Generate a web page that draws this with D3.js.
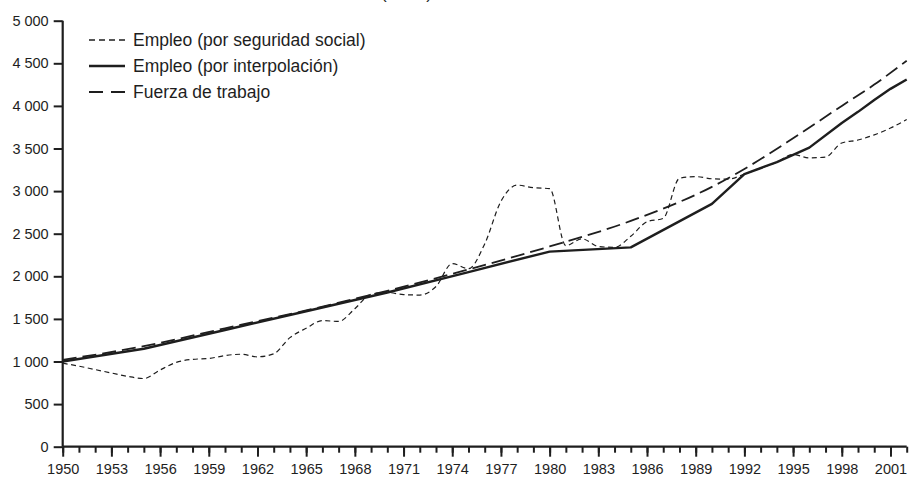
<!DOCTYPE html>
<html><head><meta charset="utf-8">
<script src="https://cdn.jsdelivr.net/npm/d3@7"></script>
<style>
body{margin:0;background:#fff;}
svg{display:block;font-family:"Liberation Sans",Arial,sans-serif;}
</style></head>
<body><svg id="c" width="909" height="478"></svg>
<script>
const years = d3.range(1950, 2003);
const seguridadSocial = [980,945,905,865,825,800,900,990,1025,1035,1070,1085,1055,1090,1280,1390,1480,1470,1620,1790,1810,1785,1780,1880,2150,2090,2380,2880,3070,3040,3030,2360,2440,2350,2340,2470,2640,2680,3150,3170,3145,3140,3200,3270,3340,3430,3390,3400,3565,3600,3660,3740,3840];
const interpYears = [1950,1955,1960,1965,1970,1975,1980,1985,1990,1992,1994,1996,1998,1999,2000,2001,2002];
const interpValues = [1000,1150,1370,1590,1810,2050,2290,2340,2850,3200,3340,3510,3800,3930,4070,4200,4310];
const fuerzaYears = [1950,1955,1960,1965,1970,1975,1980,1985,1990,1992,1995,1998,2000,2002];
const fuerzaValues = [1020,1180,1390,1600,1830,2080,2350,2650,3050,3260,3620,4000,4250,4530];
const yTicks = [0,500,1000,1500,2000,2500,3000,3500,4000,4500,5000];
const xMajor = d3.range(1950, 2002, 3);
const legendLabels = ["Empleo (por seguridad social)","Empleo (por interpolación)","Fuerza de trabajo"];
const titleText = "(miles)";

const svg = d3.select("#c");
const ink = "#1e1e1e";
const x = d3.scaleLinear().domain([1950, 2002]).range([62.7, 906.7]);
const y = d3.scaleLinear().domain([0, 5000]).range([446.7, 20.7]);
const fmt = v => d3.format(",")(v).replace(/,/g, " ");

svg.append("text").attr("x", 432).attr("y", -1.5).attr("text-anchor","end")
  .attr("font-size", 17).attr("fill", ink).text(titleText);

// y axis
const ya = svg.append("g").attr("transform", `translate(${x(1950)},0)`)
  .call(d3.axisLeft(y).tickValues(yTicks).tickSize(9).tickPadding(5).tickFormat(fmt));
ya.select(".domain").attr("stroke", ink).attr("stroke-width", 2.2).attr("d", `M0,${y(5000)}V${y(0)}`);
ya.selectAll(".tick line").attr("stroke", ink).attr("stroke-width", 2);
ya.selectAll(".tick text").attr("font-size", 14.5).attr("fill", ink).attr("font-family","Liberation Sans, Arial, sans-serif");

// x axis minor
const xm = svg.append("g").attr("transform", `translate(0,${y(0)})`)
  .call(d3.axisBottom(x).tickValues(years).tickSize(6).tickFormat(""));
xm.select(".domain").remove();
xm.selectAll(".tick line").attr("stroke", ink).attr("stroke-width", 2);
// x axis major
const xa = svg.append("g").attr("transform", `translate(0,${y(0)})`)
  .call(d3.axisBottom(x).tickValues(xMajor).tickSize(10).tickPadding(7).tickFormat(d3.format("d")));
xa.select(".domain").attr("stroke", ink).attr("stroke-width", 2.2).attr("d", `M${x(1950)},0H${x(2002)}`);
xa.selectAll(".tick line").attr("stroke", ink).attr("stroke-width", 2);
xa.selectAll(".tick text").attr("font-size", 14.5).attr("fill", ink).attr("font-family","Liberation Sans, Arial, sans-serif");

const styles = [
  {w:1.2, dash:"5,3.5"},
  {w:2.4, dash:null},
  {w:1.8, dash:"14,6"}
];

const lineSS = d3.line().x((d,i)=>x(years[i])).y(d=>y(d)).curve(d3.curveMonotoneX);
svg.append("path").datum(seguridadSocial).attr("d", lineSS).attr("fill","none")
  .attr("stroke", ink).attr("stroke-width", styles[0].w).attr("stroke-dasharray", styles[0].dash);

const lineI = d3.line().x((d,i)=>x(interpYears[i])).y(d=>y(d));
svg.append("path").datum(interpValues).attr("d", lineI).attr("fill","none")
  .attr("stroke", ink).attr("stroke-width", styles[1].w).attr("stroke-linejoin","round");

const lineF = d3.line().x((d,i)=>x(fuerzaYears[i])).y(d=>y(d)).curve(d3.curveMonotoneX);
svg.append("path").datum(fuerzaValues).attr("d", lineF).attr("fill","none")
  .attr("stroke", ink).attr("stroke-width", styles[2].w).attr("stroke-dasharray", styles[2].dash);

// legend
const lg = svg.append("g");
legendLabels.forEach((t,i)=>{
  const yy = 40 + i*26;
  lg.append("line").attr("x1", 89).attr("x2", 125).attr("y1", yy).attr("y2", yy)
    .attr("stroke", ink).attr("stroke-width", styles[i].w + (i===0?0.3:0)).attr("stroke-dasharray", styles[i].dash ? (i===0?"6,4":"14,8") : null);
  lg.append("text").attr("x", 133).attr("y", yy + 6).attr("font-size", 17.5).attr("fill", ink).text(t);
});
</script></body></html>
